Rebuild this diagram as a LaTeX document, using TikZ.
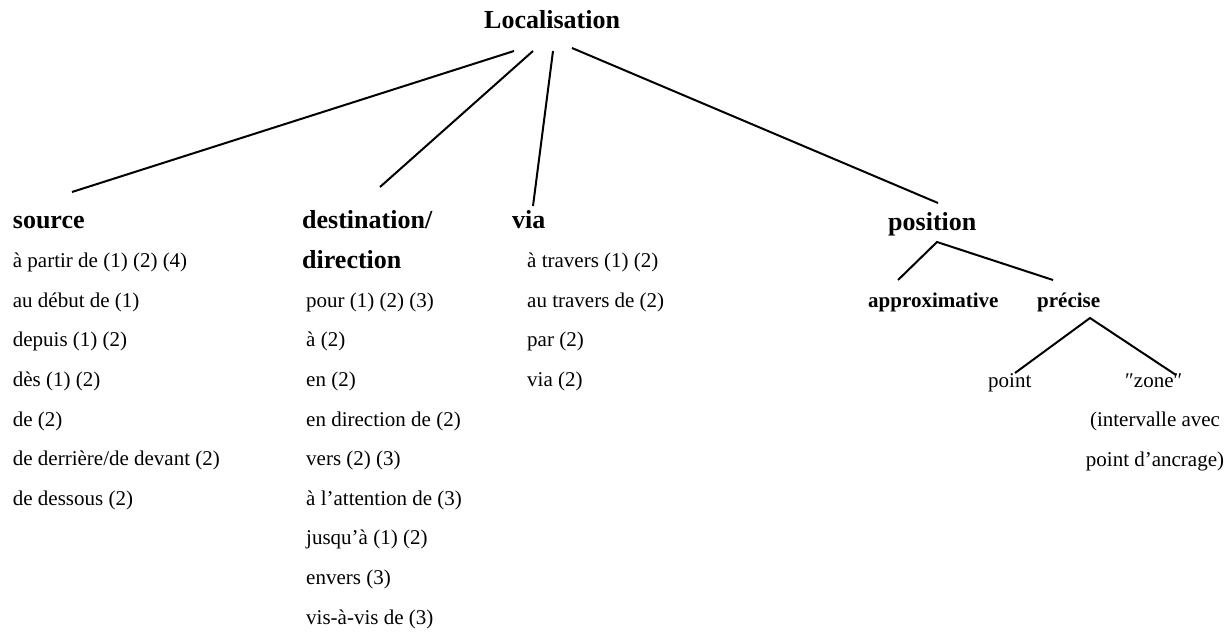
\documentclass[tikz,border=0pt]{standalone}
\usepackage{fontspec}
\setmainfont{Liberation Serif}
\usetikzlibrary{positioning}

\begin{document}
\begin{tikzpicture}[x=1pt,y=-1pt,
  txt/.style={inner sep=0pt,anchor=base west,font=\fontsize{21}{25}\selectfont},
  head/.style={inner sep=0pt,anchor=base west,font=\fontsize{26}{30}\selectfont\bfseries},
  sub/.style={inner sep=0pt,anchor=base west,font=\fontsize{21}{25}\selectfont\bfseries},
  br/.style={line width=2pt}]
\useasboundingbox (0,0) rectangle (1228,635);

% top
\node[head] (loc) at (484,28) {Localisation};

% headings
\node[head] (src) at (12.7,228) {source};
\node[head] (dst) at (302,228) {destination/};
\node[head] (dir) at (302,268) {direction};
\node[head] (via) at (512,228) {via};
\node[head] (pos) at (888,230) {position};

% lists
\foreach \t [count=\i] in {{à partir de (1) (2) (4)},{au début de (1)},{depuis (1) (2)},{dès (1) (2)},{de (2)},{de derrière/de devant (2)},{de dessous (2)}}
  \node[txt] (s\i) at (12.7,{228+39.6*\i}) {\t};
\foreach \t [count=\i] in {{pour (1) (2) (3)},{à (2)},{en (2)},{en direction de (2)},{vers (2) (3)},{à l’attention de (3)},{jusqu’à (1) (2)},{envers (3)},{vis-à-vis de (3)}}
  \node[txt] (d\i) at (306,{267.6+39.6*\i}) {\t};
\foreach \t [count=\i] in {{à travers (1) (2)},{au travers de (2)},{par (2)},{via (2)}}
  \node[txt] (v\i) at (527,{228+39.6*\i}) {\t};

% position subtree
\node[sub] (apx) at (868,307) {approximative};
\node[sub] (pre) at (1037,307) {précise};
\node[txt] (pt) at (988,387) {point};
\node[txt] (zn) at (1125,387) {″zone″};
\node[txt,anchor=base] (iv) at (1155,426) {(intervalle avec};
\node[txt,anchor=base] (pa) at (1155,466) {point d’ancrage)};

% branch ends
\coordinate (l1) at (514,51);
\coordinate (l2) at (533,51);
\coordinate (l3) at (553,51);
\coordinate (l4) at (572,48);
\coordinate (e1) at (72,192);
\coordinate (e2) at (380,187);
\coordinate (e3) at (533,206);
\coordinate (e4) at (938,203);
\coordinate (p0) at (937,242);
\coordinate (p1) at (898,280);
\coordinate (p2) at (1053,280);
\coordinate (q0) at (1090,318);
\coordinate (q1) at (1015,373);
\coordinate (q2) at (1176,375);

\draw[br] (l1) -- (e1);
\draw[br] (l2) -- (e2);
\draw[br] (l3) -- (e3);
\draw[br] (l4) -- (e4);
\draw[br] (p1) -- (p0) -- (p2);
\draw[br] (q1) -- (q0) -- (q2);
\end{tikzpicture}
\end{document}
